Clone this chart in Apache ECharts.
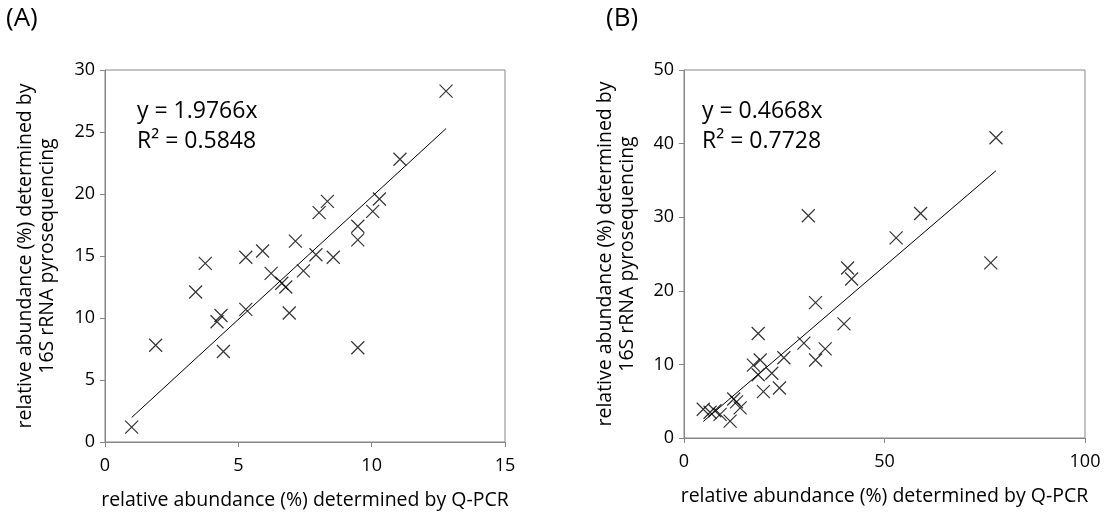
<!DOCTYPE html>
<html><head><meta charset="utf-8">
<script src="https://cdn.jsdelivr.net/npm/echarts@6/dist/echarts.min.js"></script>
<style>html,body{margin:0;padding:0;background:#fff}#c{width:1109px;height:515px}</style>
</head><body><div id="c"></div>
<script>
// Panel A data
const aX = [1.0, 1.9, 3.4, 3.76, 4.2, 4.35, 4.44, 5.28, 5.28, 5.91, 6.23, 6.63, 6.78, 6.91, 7.14, 7.44, 7.91, 8.03, 8.34, 8.56, 9.48, 9.48, 9.48, 10.04, 10.29, 11.06, 12.79];
const aY = [1.2, 7.8, 12.1, 14.4, 9.7, 10.2, 7.3, 14.9, 10.7, 15.4, 13.6, 12.8, 12.5, 10.4, 16.2, 13.8, 15.1, 18.5, 19.4, 14.9, 16.3, 17.4, 7.6, 18.6, 19.6, 22.8, 28.3];
const aSlope = 1.9766, aR2 = 0.5848;
// Panel B data
const bX = [4.8, 6.5, 7.7, 9.0, 11.5, 12.4, 13.1, 14.0, 17.3, 18.5, 19.0, 18.5, 19.8, 21.9, 23.8, 24.9, 29.9, 31.0, 32.8, 32.8, 35.2, 39.9, 40.8, 41.8, 52.9, 59.0, 76.5, 77.8];
const bY = [3.9, 3.5, 3.7, 3.2, 2.3, 5.3, 4.9, 4.1, 9.9, 14.2, 10.6, 8.6, 6.3, 8.8, 6.8, 10.9, 12.9, 30.2, 18.4, 10.6, 12.1, 15.5, 23.1, 21.6, 27.2, 30.5, 23.8, 40.8];
const bSlope = 0.4668, bR2 = 0.7728;
const xTitle = 'relative abundance (%) determined by Q-PCR';
const yTitle = 'relative abundance (%) determined by\n16S rRNA pyrosequencing';

const FONT = '"Open Sans"';
const cross = 'path://M0,0L10,10M10,0L0,10';
function pts(xs, ys){ return xs.map((x,i)=>[x, ys[i]]); }
function trend(xs, k){ const lo=Math.min(...xs), hi=Math.max(...xs); return [[lo,k*lo],[hi,k*hi]]; }
const axisLine = {show:true, lineStyle:{color:'#868686', width:1}};
function xAxis(idx, max, interval){
  return {type:'value', gridIndex:idx, min:0, max:max, interval:interval,
    axisLine:axisLine, axisTick:{show:true, length:5, lineStyle:{color:'#868686'}},
    splitLine:{show:false}, axisLabel:{color:'#000', fontSize:18, fontFamily:FONT, margin:15},
    name:xTitle, nameLocation:'middle', nameGap:48, nameTextStyle:{color:'#000', fontSize:19.5, fontFamily:FONT}};
}
function yAxis(idx, max, interval, gap){
  return {type:'value', gridIndex:idx, min:0, max:max, interval:interval,
    axisLine:axisLine, axisTick:{show:true, length:5, lineStyle:{color:'#868686'}},
    splitLine:{show:false}, axisLabel:{color:'#000', fontSize:18, fontFamily:FONT, margin:10},
    name:yTitle, nameLocation:'middle', nameGap:gap, nameRotate:90,
    nameTextStyle:{color:'#000', fontSize:19.5, fontFamily:FONT, lineHeight:22}};
}
const scatterStyle = {symbol:cross, symbolSize:13, itemStyle:{color:'none', borderColor:'#000', borderWidth:1.2}};
const option = {
  animation:false,
  grid:[
    {left:105, top:70, width:400, height:376, show:true, borderColor:'#868686', borderWidth:1, backgroundColor:'transparent'},
    {left:684, top:70, width:401, height:368, show:true, borderColor:'#868686', borderWidth:1, backgroundColor:'transparent'}
  ],
  xAxis:[xAxis(0,15,5), xAxis(1,100,50)],
  yAxis:[yAxis(0,30,5,47), yAxis(1,50,10,46)],
  series:[
    Object.assign({type:'scatter', xAxisIndex:0, yAxisIndex:0, data:pts(aX,aY)}, scatterStyle),
    {type:'line', xAxisIndex:0, yAxisIndex:0, data:trend(aX,aSlope), symbol:'none', lineStyle:{color:'#000', width:1}},
    Object.assign({type:'scatter', xAxisIndex:1, yAxisIndex:1, data:pts(bX,bY)}, scatterStyle),
    {type:'line', xAxisIndex:1, yAxisIndex:1, data:trend(bX,bSlope), symbol:'none', lineStyle:{color:'#000', width:1}}
  ],
  graphic:[
    {type:'text', left:6, top:6, style:{text:'(A)', font:'26px '+FONT, fill:'#000'}},
    {type:'text', left:606, top:6, style:{text:'(B)', font:'26px '+FONT, fill:'#000'}},
    {type:'text', left:137, top:96, style:{text:'y = '+aSlope.toFixed(4)+'x\nR² = '+aR2.toFixed(4), font:'23px '+FONT, lineHeight:30, fill:'#000'}},
    {type:'text', left:702, top:96, style:{text:'y = '+bSlope.toFixed(4)+'x\nR² = '+bR2.toFixed(4), font:'23px '+FONT, lineHeight:30, fill:'#000'}}
  ]
};
echarts.init(document.getElementById('c')).setOption(option);
</script></body></html>
